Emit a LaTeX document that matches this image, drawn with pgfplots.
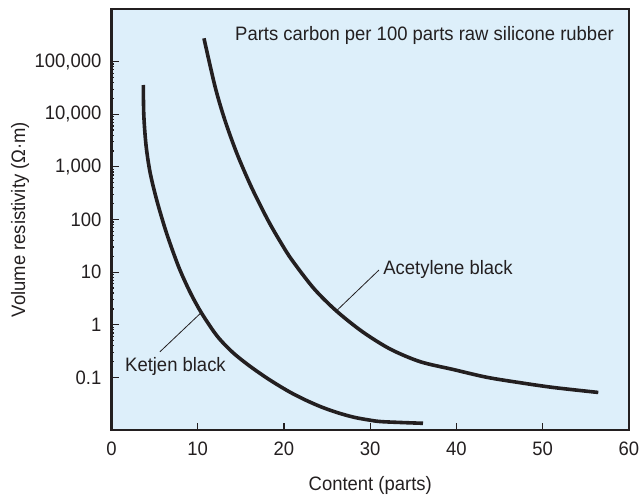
\documentclass[border=0pt]{standalone}
\usepackage{pgfplots}
\pgfplotsset{compat=1.18}
\usepackage{fontspec}
\setmainfont{Liberation Sans}[FakeStretch=0.95]
\definecolor{bgblue}{HTML}{DDEFFA}
\definecolor{ink}{HTML}{231F20}
\newcommand{\lblfont}{\fontsize{19.5}{23}\selectfont}
\begin{document}
\lblfont
\begin{tikzpicture}
\path[use as bounding box] (0,0) rectangle (640bp,495bp);
\begin{axis}[
  at={(111.5bp,65bp)}, anchor=south west,
  scale only axis, width=517.5bp, height=421bp,
  xmin=0, xmax=60, ymode=log, ymin=0.01, ymax=1e6,
  xtick={0,10,20,30,40,50,60},
  ytick={0.1,1,10,100,1000,10000,100000},
  yticklabels={0.1,1,10,100,{1,000},{10,000},{100,000}},
  xticklabels={0,10,20,30,40,50,60},
  xtick pos=left, ytick pos=left, tick align=inside,
  major tick length=7bp, minor tick num=0,
  axis line style={ink, line width=2.4bp},
  every tick/.style={ink, line width=1.2bp},
  axis background/.style={fill=bgblue},
  tick label style={font=\lblfont, text=ink},
  xticklabel style={yshift=-5bp},
  yticklabel style={xshift=-3.5bp},
  xlabel={Content (parts)}, ylabel={Volume resistivity (Ω·m)},
  label style={font=\lblfont, text=ink},
  xlabel style={at={(axis description cs:0.5,0)}, anchor=center, yshift=-55bp},
  ylabel style={at={(axis description cs:0,0.5)}, anchor=center, yshift=91.5bp},
  clip=false,
]
% Ketjen black
\addplot[ink, line width=3.6bp, smooth] coordinates {
(3.687,35960) (3.745,9676) (4.0,2604) (4.464,799) (5.241,234.7) (6.377,55.4)
(7.780,12.68) (9.101,4.19) (10.458,1.651) (12.243,0.611) (14.064,0.297)
(16.128,0.1595) (18.365,0.0891) (20.603,0.0534) (22.481,0.0372) (24.429,0.0270)
(26.342,0.0210) (28.139,0.01743) (29.855,0.01549) (31.432,0.01438) (36.116,0.01341)
};
% Acetylene black
\addplot[ink, line width=3.6bp, smooth] coordinates {
(10.72,277000) (12.01,33400) (13.14,7780) (14.53,1811) (16.20,420) (18.13,97.7)
(19.68,35.3) (20.92,17.0) (23.44,4.93) (26.04,1.85) (29.09,0.738) (32.30,0.346)
(35.77,0.199) (39.63,0.141) (43.50,0.1005) (47.36,0.0793) (51.22,0.0643) (56.44,0.0517)
};
\draw[ink, line width=0.8bp] (axis cs:5.62,0.307) -- (axis cs:10.40,1.70);
\draw[ink, line width=0.8bp] (axis cs:31.01,10.96) -- (axis cs:26.1,1.85);
\node[anchor=base west, text=ink, inner sep=0] at (axis cs:1.565,0.128) {Ketjen black};
\node[anchor=base west, text=ink, inner sep=0] at (axis cs:31.5,9.2) {Acetylene black};
\node[anchor=base west, text=ink, inner sep=0] at (axis cs:14.32,250000) {Parts carbon per 100 parts raw silicone rubber};
\end{axis}
\end{tikzpicture}
\end{document}
